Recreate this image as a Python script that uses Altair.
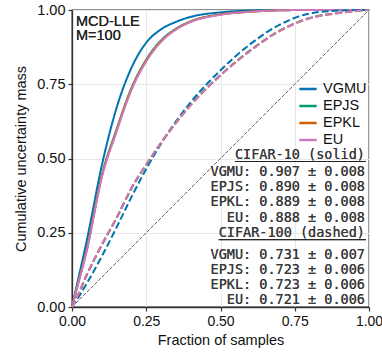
import altair as alt
import pandas as pd

# ---- data ----
x_frac = [0.0, 0.02, 0.05, 0.1, 0.15, 0.2, 0.25, 0.3, 0.35, 0.4, 0.5, 0.6, 0.7, 0.8, 0.9, 1.0]

c10_vgmu = [0.0, 0.09, 0.225, 0.475, 0.67, 0.805, 0.89, 0.935, 0.96, 0.977, 0.992, 0.998, 1.0, 1.0, 1.0, 1.0]
c10_epjs = [0.0, 0.078, 0.196, 0.442, 0.598, 0.737, 0.833, 0.898, 0.937, 0.962, 0.985, 0.995, 0.999, 1.0, 1.0, 1.0]
c10_epkl = [0.0, 0.077, 0.194, 0.438, 0.594, 0.734, 0.830, 0.895, 0.935, 0.961, 0.985, 0.994, 0.999, 1.0, 1.0, 1.0]
c10_eu   = [0.0, 0.075, 0.19, 0.435, 0.59, 0.73, 0.827, 0.893, 0.934, 0.96, 0.984, 0.994, 0.999, 1.0, 1.0, 1.0]

c100_vgmu = [0.0, 0.03, 0.08, 0.17, 0.268, 0.37, 0.465, 0.55, 0.625, 0.69, 0.797, 0.885, 0.951, 0.988, 0.998, 1.0]
c100_epjs = [0.0, 0.04, 0.108, 0.208, 0.299, 0.399, 0.479, 0.553, 0.621, 0.681, 0.781, 0.864, 0.931, 0.973, 0.991, 1.0]
c100_epkl = [0.0, 0.04, 0.109, 0.209, 0.3, 0.4, 0.48, 0.553, 0.62, 0.68, 0.78, 0.863, 0.93, 0.972, 0.99, 1.0]
c100_eu   = [0.0, 0.04, 0.11, 0.21, 0.3, 0.4, 0.48, 0.553, 0.62, 0.68, 0.78, 0.862, 0.93, 0.972, 0.99, 1.0]

methods = ["VGMU", "EPJS", "EPKL", "EU"]
method_colors = ["#0173b2", "#029e73", "#d55e00", "#cc78bc"]
datasets = ["CIFAR-10", "CIFAR-100"]

c10_scores = ["0.907 ± 0.008", "0.890 ± 0.008", "0.889 ± 0.008", "0.888 ± 0.008"]
c100_scores = ["0.731 ± 0.007", "0.723 ± 0.006", "0.723 ± 0.006", "0.721 ± 0.006"]

diag_x = [0.0, 1.0]
diag_y = [0.0, 1.0]

tick_vals = [0.0, 0.25, 0.5, 0.75, 1.0]

# ---- build tables ----
rows = []
series = {
    ("CIFAR-10", "VGMU"): c10_vgmu, ("CIFAR-10", "EPJS"): c10_epjs,
    ("CIFAR-10", "EPKL"): c10_epkl, ("CIFAR-10", "EU"): c10_eu,
    ("CIFAR-100", "VGMU"): c100_vgmu, ("CIFAR-100", "EPJS"): c100_epjs,
    ("CIFAR-100", "EPKL"): c100_epkl, ("CIFAR-100", "EU"): c100_eu,
}
for ds in datasets:
    for m in methods:
        for xv, yv in zip(x_frac, series[(ds, m)]):
            rows.append({"x": xv, "y": yv, "method": m, "dataset": ds, "key": f"{ds}-{m}"})
df = pd.DataFrame(rows)
diag = pd.DataFrame({"x": diag_x, "y": diag_y})

W, H = 297, 297
FONT = "Liberation Sans"
MONO = "DejaVu Sans Mono"
MONO_SIZE = 13.5
CHAR_W = 0.602 * MONO_SIZE
RIGHT = 293

xs = alt.Scale(domain=[0, 1], nice=False)
ys = alt.Scale(domain=[0, 1], nice=False)

diag_layer = alt.Chart(diag).mark_line(
    color="#666666", strokeWidth=1, strokeDash=[3.7, 1.6]
).encode(
    x=alt.X("x:Q", scale=xs),
    y=alt.Y("y:Q", scale=ys),
)

lines = alt.Chart(df).mark_line(strokeWidth=2, interpolate="monotone").encode(
    x=alt.X("x:Q", scale=xs,
            axis=alt.Axis(values=tick_vals, format=".2f", title="Fraction of samples")),
    y=alt.Y("y:Q", scale=ys,
            axis=alt.Axis(values=tick_vals, format=".2f", title="Cumulative uncertainty mass")),
    color=alt.Color("method:N", scale=alt.Scale(domain=methods, range=method_colors),
                    legend=alt.Legend(title=None, orient="none", legendX=226, legendY=69,
                                      symbolType="stroke", symbolSize=300,
                                      symbolStrokeWidth=2.5, labelFontSize=14.5,
                                      labelFont=FONT, rowPadding=-1.5, labelOffset=5,
                                      labelColor="#111")),
    strokeDash=alt.StrokeDash("dataset:N",
                              scale=alt.Scale(domain=datasets, range=[[1, 0], [7, 3]]),
                              legend=None),
    detail="key:N",
)

texts = []
texts.append(alt.Chart(diag).mark_text(
    text="MCD-LLE\nM=100", lineBreak="\n", lineHeight=14.5, align="left",
    baseline="alphabetic", font=FONT, fontSize=14.5, color="#222"
).encode(x=alt.value(4), y=alt.value(15.7)))

head1 = "CIFAR-10 (solid)"
head2 = "CIFAR-100 (dashed)"
block = [(head1, 148.7)]
ys1 = [165.7, 181.0, 196.2, 211.5]
for m, s, yy in zip(methods, c10_scores, ys1):
    block.append((f"{m}: {s}", yy))
block.append((head2, 226.7))
ys2 = [249.3, 264.3, 279.3, 294.0]
for m, s, yy in zip(methods, c100_scores, ys2):
    block.append((f"{m}: {s}", yy))

for t, yy in block:
    texts.append(alt.Chart(diag).mark_text(
        text=t, align="right", baseline="alphabetic", font=MONO, fontSize=MONO_SIZE,
        color="#3a3a3a", fontWeight="normal"
    ).encode(x=alt.value(RIGHT), y=alt.value(yy)))

# underlines of the two headers
for head, yy in [(head1, 151.5), (head2, 229.7)]:
    texts.append(alt.Chart(diag).mark_rule(color="#222", strokeWidth=1).encode(
        x=alt.value(RIGHT - len(head) * CHAR_W), x2=alt.value(RIGHT + 1), y=alt.value(yy)))

chart = alt.layer(diag_layer, lines, *texts).properties(
    width=W, height=H,
    autosize=alt.AutoSizeParams(type="none"),
    padding={"left": 72, "top": 10, "right": 13, "bottom": 46},
).configure_view(
    stroke="#222222", strokeWidth=1.3
).configure_axis(
    labelFont=FONT, labelFontSize=14.5, labelColor="#111", labelFlush=False,
    titleFont=FONT, titleFontSize=14.5, titleFontWeight="normal", titleColor="#111",
    tickSize=4, tickColor="#333", tickWidth=1.2,
    domainColor="#333", domainWidth=1.3,
    gridColor="#e8e8e8", gridWidth=1, labelPadding=3,
).configure_axisX(
    titlePadding=5, labelFontSize=14
).configure_axisY(
    titlePadding=8
)

chart.save("out.html", embed_options={"renderer": "svg", "actions": False})
